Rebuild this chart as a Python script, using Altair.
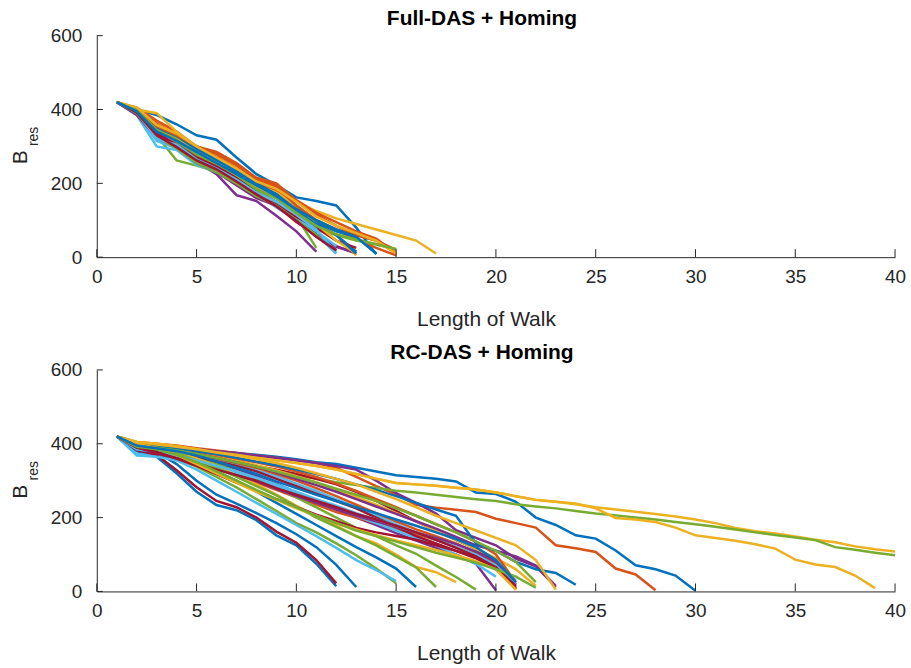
import altair as alt
import pandas as pd

FONT = "Liberation Sans"
AX = "#262626"
COL = {"blue": "#0072BD", "orange": "#D95319", "yellow": "#EDB120", "purple": "#7E2F8E",
       "green": "#77AC30", "cyan": "#4DBEEE", "darkred": "#A2142F"}

x_ticks = [0, 5, 10, 15, 20, 25, 30, 35, 40]
y_ticks = [0, 200, 400, 600]

# ---- Full-DAS + Homing : residual budget per step (x = 1, 2, ...) ----
top_colors = ["blue", "orange", "yellow", "purple", "green", "cyan", "darkred",
              "blue", "orange", "yellow", "purple", "green", "cyan", "darkred",
              "blue", "orange", "yellow", "purple", "green", "cyan", "darkred",
              "blue", "orange", "yellow", "green", "blue"]
top_runs = [
    [420, 400, 385, 360, 330, 318, 270, 225, 195, 162, 152, 140, 80, 8],
    [420, 405, 370, 340, 300, 285, 255, 215, 200, 152, 115, 85, 60, 45, 10],
    [420, 400, 390, 340, 300, 270, 245, 205, 180, 150, 125, 105, 90, 75, 60, 45, 10],
    [420, 390, 330, 300, 258, 225, 168, 152, 112, 70, 15],
    [420, 395, 330, 262, 248, 232, 200, 180, 150, 110, 25],
    [420, 385, 300, 290, 250, 230, 200, 170, 135, 100, 60, 10],
    [420, 395, 340, 300, 270, 235, 210, 180, 140, 95, 60, 30, 10],
    [420, 400, 340, 320, 280, 260, 225, 190, 160, 120, 90, 60, 15],
    [420, 402, 362, 332, 295, 272, 240, 202, 182, 138, 100, 72, 50, 25, 5],
    [420, 395, 345, 315, 285, 255, 230, 195, 175, 140, 100, 60, 5],
    [420, 390, 320, 300, 265, 240, 205, 180, 150, 105, 62, 28, 12],
    [420, 395, 350, 310, 275, 250, 215, 180, 150, 110, 75, 60, 45, 35, 20],
    [420, 390, 315, 295, 260, 235, 210, 175, 140, 105, 70, 30],
    [420, 395, 335, 305, 270, 245, 215, 175, 145, 110, 80, 45, 25],
    [420, 400, 345, 325, 290, 265, 235, 200, 170, 130, 95, 70, 55, 10],
    [420, 400, 360, 330, 300, 280, 250, 212, 195, 155, 120, 95, 70, 50, 10],
    [420, 400, 345, 320, 285, 255, 225, 190, 165, 130, 90, 45, 10],
    [420, 385, 325, 300, 255, 230, 195, 160, 140, 100, 55, 20],
    [420, 390, 325, 295, 255, 230, 200, 165, 140, 100, 60, 15],
    [420, 395, 320, 305, 265, 240, 210, 175, 150, 115, 75, 10],
    [420, 392, 330, 298, 262, 238, 205, 170, 138, 98, 55, 18],
    [420, 400, 350, 330, 295, 265, 230, 195, 170, 125, 90, 60, 10],
    [420, 400, 355, 330, 300, 280, 250, 210, 190, 140, 100, 75, 60, 45, 20],
    [420, 405, 358, 335, 300, 270, 240, 205, 185, 150, 110, 85, 65, 45, 10],
    [420, 398, 345, 318, 282, 255, 222, 185, 160, 120, 85, 62, 48, 35, 22],
    [420, 395, 340, 315, 285, 255, 225, 195, 165, 130, 100, 75, 55, 10],
]

# ---- RC-DAS + Homing ----
bot_colors = ["blue", "orange", "yellow", "purple", "green", "cyan", "darkred",
              "blue", "orange", "yellow", "purple", "green", "cyan", "darkred",
              "blue", "orange", "yellow", "purple", "green", "cyan", "darkred",
              "blue", "orange", "yellow", "purple", "green", "cyan", "darkred",
              "blue", "yellow", "green", "darkred", "yellow", "green", "blue"]
bot_runs = [
    [420, 400, 395, 390, 385, 380, 375, 370, 365, 358, 350, 345, 335, 325, 315, 310, 305, 298, 268, 264,
     243, 200, 180, 152, 143, 111, 71, 60, 43, 2],
    [420, 405, 400, 395, 388, 382, 375, 368, 362, 355, 348, 335, 310, 285, 262, 235, 227, 221, 215, 197,
     185, 173, 125, 117, 107, 62, 46, 3],
    [420, 405, 400, 393, 385, 377, 370, 362, 355, 348, 340, 330, 318, 305, 294, 290, 286, 281, 276, 268,
     258, 248, 243, 236, 228, 222, 216, 210, 203, 195, 185, 172, 163, 157, 149, 140, 133, 122, 114, 108],
    [420, 400, 395, 390, 385, 380, 375, 368, 362, 355, 348, 340, 330, 300, 266, 240, 211, 166, 145, 125,
     89, 68, 12],
    [420, 395, 385, 375, 365, 355, 345, 335, 325, 315, 305, 296, 288, 280, 273, 268, 262, 256, 250, 245,
     236, 230, 225, 218, 211, 206, 200, 195, 188, 182, 175, 168, 160, 153, 146, 139, 120, 113, 105, 98],
    [420, 392, 385, 376, 366, 355, 342, 328, 312, 292, 272, 250, 228, 205, 182, 160, 140, 120, 95, 68, 30],
    [420, 400, 392, 384, 375, 365, 352, 340, 330, 318, 305, 290, 270, 245, 218, 190, 165, 140, 115, 80, 5],
    [420, 380, 365, 320, 270, 234, 220, 193, 152, 125, 75, 14],
    [420, 398, 390, 380, 370, 360, 348, 335, 318, 300, 280, 258, 235, 212, 190, 168, 150, 130, 105, 75, 15],
    [420, 405, 400, 393, 385, 377, 370, 362, 355, 348, 340, 330, 318, 305, 294, 290, 286, 281, 276, 268,
     258, 248, 243, 238, 225, 199, 195, 188, 173, 152, 145, 137, 128, 116, 86, 73, 66, 43, 9],
    [420, 388, 380, 372, 360, 348, 332, 312, 292, 268, 245, 222, 200, 180, 158, 138, 118, 100, 75, 3],
    [420, 395, 382, 360, 338, 310, 282, 250, 218, 185, 160, 130, 98, 62, 22],
    [420, 372, 368, 355, 330, 300, 270, 240, 210, 180, 150, 118, 85, 58, 28],
    [420, 383, 370, 328, 282, 245, 228, 200, 162, 132, 85, 22],
    [420, 392, 378, 345, 300, 262, 238, 212, 185, 155, 120, 72, 12],
    [420, 395, 385, 372, 355, 335, 315, 295, 275, 255, 235, 215, 200, 185, 170, 155, 140, 120, 100, 70, 20],
    [420, 402, 395, 388, 378, 368, 355, 342, 328, 312, 295, 275, 255, 235, 212, 190, 165, 140, 115, 90, 60, 15],
    [420, 395, 388, 380, 372, 362, 350, 338, 322, 305, 288, 270, 250, 230, 210, 190, 170, 148, 125, 110, 95, 70, 15],
    [420, 395, 388, 378, 362, 345, 325, 305, 282, 255, 228, 200, 172, 150, 125, 102, 70, 39, 5],
    [420, 368, 365, 355, 345, 335, 320, 300, 285, 265, 245, 225, 205, 185, 165, 145, 125, 100, 75, 40],
    [420, 395, 385, 375, 365, 352, 340, 325, 305, 285, 265, 245, 225, 200, 175, 150, 130, 110, 90, 60, 10],
    [420, 398, 385, 370, 350, 325, 300, 270, 240, 210, 180, 150, 120, 92, 62, 12],
    [420, 398, 392, 385, 378, 370, 360, 350, 338, 325, 310, 292, 272, 250, 228, 205, 182, 160, 135, 100, 25],
    [420, 402, 392, 378, 360, 340, 315, 290, 262, 232, 205, 178, 150, 130, 100, 66, 52, 25],
    [420, 385, 375, 362, 348, 332, 315, 298, 278, 258, 240, 222, 205, 190, 175, 160, 145, 128, 108, 80, 20],
    [420, 396, 388, 375, 355, 335, 310, 285, 260, 230, 200, 175, 150, 125, 95, 65, 12],
    [420, 385, 378, 368, 355, 340, 325, 308, 290, 270, 250, 232, 212, 195, 178, 160, 140, 120, 100, 70, 18],
    [420, 390, 378, 360, 340, 318, 295, 272, 250, 228, 208, 190, 172, 160, 150, 140, 125, 110, 92, 65, 15],
    [420, 400, 394, 388, 380, 372, 362, 352, 342, 330, 318, 305, 290, 275, 258, 240, 222, 205, 130, 110, 80, 60, 50, 18],
    [420, 404, 398, 392, 385, 376, 368, 358, 348, 335, 320, 305, 290, 270, 250, 228, 205, 185, 165, 145, 125, 85, 5],
    [420, 398, 390, 382, 372, 362, 350, 338, 325, 310, 295, 278, 262, 245, 225, 205, 182, 160, 135, 110, 80, 25],
    [420, 390, 375, 360, 345, 330, 315, 300, 280, 262, 245, 228, 210, 195, 178, 160, 140, 118, 95, 65, 8],
    [420, 400, 388, 370, 345, 320, 295, 270, 248, 225, 205, 185, 168, 152, 138, 125, 112, 98, 82, 60, 5],
    [420, 392, 385, 370, 350, 325, 300, 275, 250, 228, 205, 185, 165, 150, 135, 120, 105, 92, 78, 60, 40, 10],
    [420, 395, 388, 380, 368, 352, 335, 318, 298, 280, 262, 245, 228, 212, 195, 178, 160, 142, 120, 85, 25],
]


def make_df(colors, runs):
    rows = []
    for i, (c, vals) in enumerate(zip(colors, runs)):
        for j, v in enumerate(vals):
            rows.append({"run": i, "x": j + 1, "y": v, "color": COL[c]})
    return pd.DataFrame(rows)


W, H = 800, 222


def panel(df, title):
    xs = alt.Scale(domain=[0, 40], nice=False)
    ys = alt.Scale(domain=[0, 600], nice=False)
    lines = alt.Chart(df).mark_line(strokeWidth=2.5).encode(
        x=alt.X("x:Q", scale=xs, axis=alt.Axis(
            values=x_ticks, title="Length of Walk", tickSize=0, labelPadding=10,
            titlePadding=22, titleX=390, labelFlush=False, labelOverlap=False)),
        y=alt.Y("y:Q", scale=ys, axis=alt.Axis(
            values=y_ticks, title=None, tickSize=0, labelPadding=15,
            labelFlush=False, labelOverlap=False)),
        detail="run:N",
        order="x:Q",
        color=alt.Color("color:N", scale=None),
    )
    xt = alt.Chart(pd.DataFrame({"x": x_ticks})).mark_rule(color=AX, strokeWidth=1).encode(
        x=alt.X("x:Q", scale=xs), y=alt.value(H), y2=alt.value(H - 8))
    yt = alt.Chart(pd.DataFrame({"y": y_ticks})).mark_rule(color=AX, strokeWidth=1).encode(
        y=alt.Y("y:Q", scale=ys), x=alt.value(0), x2=alt.value(6))
    tb = alt.Chart(pd.DataFrame({"t": ["B"]})).mark_text(
        angle=270, fontSize=21, font=FONT, color=AX, align="center", baseline="middle").encode(
        text="t:N", x=alt.value(-76), y=alt.value(H / 2 + 11))
    tr = alt.Chart(pd.DataFrame({"t": ["res"]})).mark_text(
        angle=270, fontSize=14, font=FONT, color=AX, align="center", baseline="middle").encode(
        text="t:N", x=alt.value(-63), y=alt.value(H / 2 - 10))
    return alt.layer(lines, xt, yt, tb, tr).properties(
        width=W, height=H,
        title=alt.TitleParams(title, fontSize=21, fontWeight="bold", font=FONT, color="#000000",
                              anchor="middle", frame="group", dx=-14, offset=-2),
    )


top = panel(make_df(top_colors, top_runs), "Full-DAS + Homing")
bot = panel(make_df(bot_colors, bot_runs), "RC-DAS + Homing")

chart = alt.vconcat(top, bot, spacing=13).properties(
    padding={"left": 10, "top": 7, "right": 5, "bottom": 5}
).configure_view(stroke=None).configure_axis(
    grid=False, domainColor=AX, domainWidth=1, labelColor=AX, titleColor=AX,
    labelFont=FONT, titleFont=FONT, labelFontSize=19, titleFontSize=21, titleFontWeight="normal"
)

chart.save("out.html", embed_options={"renderer": "svg", "actions": False})
